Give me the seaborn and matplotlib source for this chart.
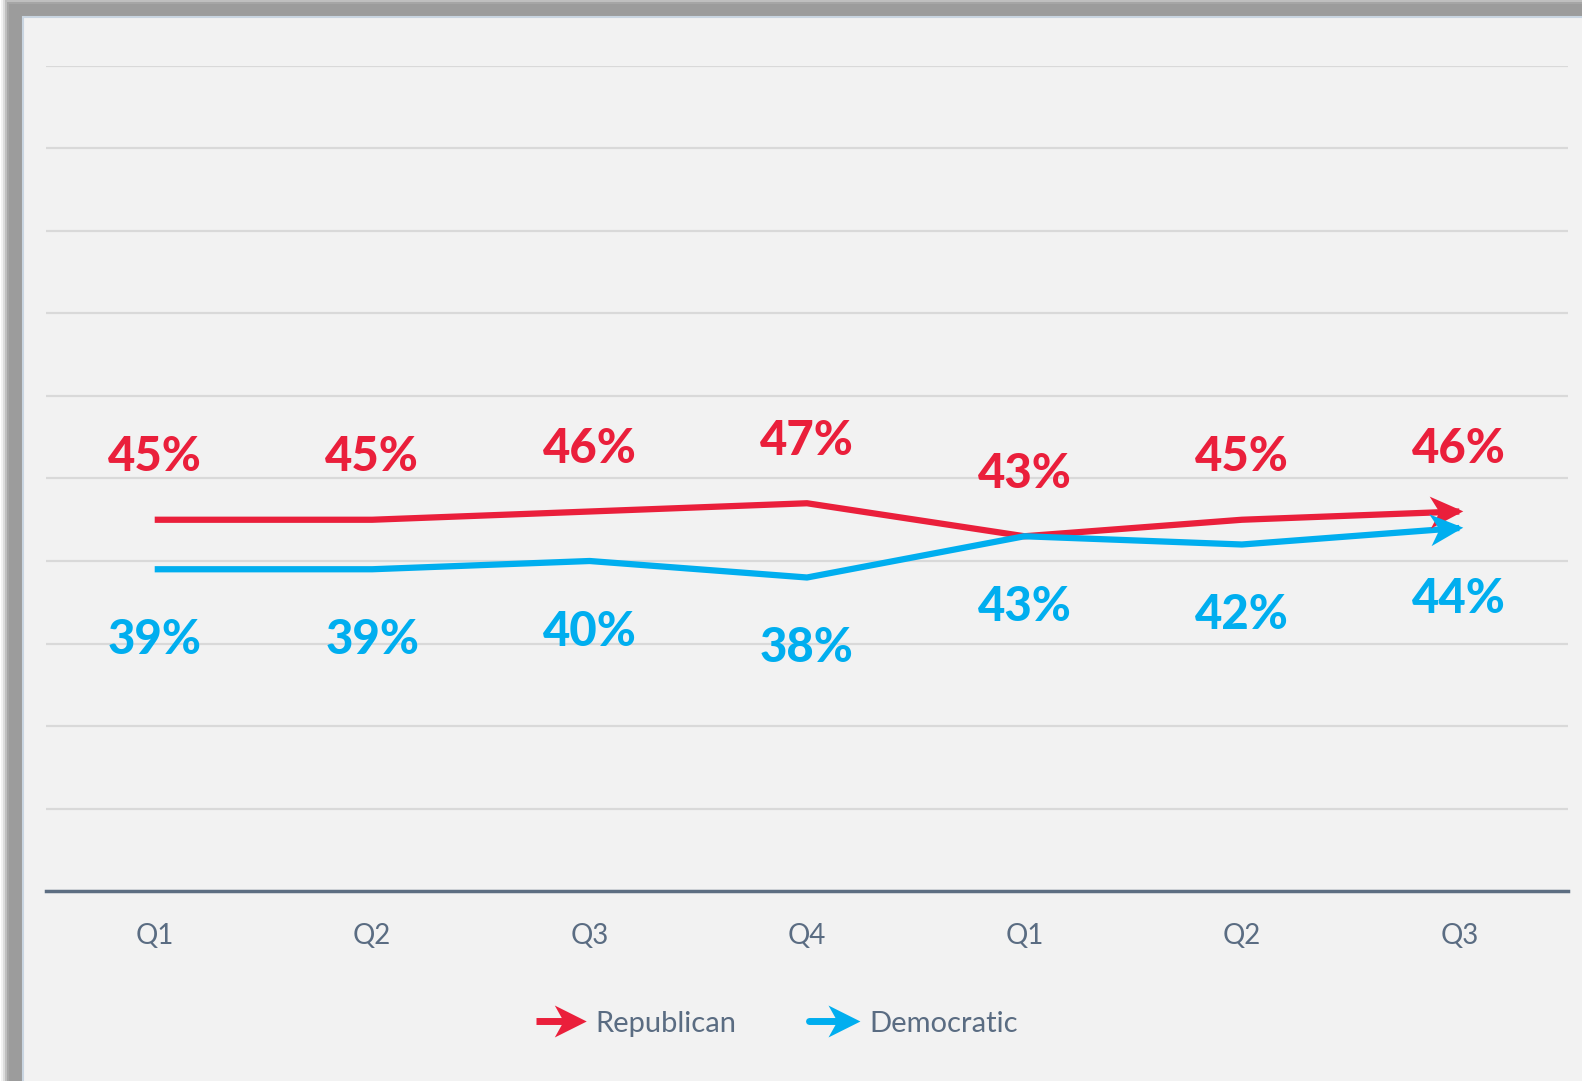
import matplotlib
matplotlib.use('Agg')
import numpy as np
import matplotlib.pyplot as plt
import seaborn as sns
import pandas as pd
from matplotlib.patches import Rectangle, Polygon
from matplotlib.lines import Line2D
from matplotlib.legend_handler import HandlerBase
from matplotlib.transforms import IdentityTransform

# Data
quarters = ['Q1', 'Q2', 'Q3', 'Q4', 'Q1', 'Q2', 'Q3']
republican = [45, 45, 46, 47, 43, 45, 46]
democratic = [39, 39, 40, 38, 43, 42, 44]

RED = '#EA1F3B'
BLUE = '#00AEEF'
TEXT = '#5A6C82'

sns.set_theme(style='white')
plt.rcParams['font.family'] = ['Lato', 'DejaVu Sans']

df = pd.DataFrame({
    'pos': list(range(len(quarters))) * 2,
    'value': republican + democratic,
    'party': ['Republican'] * len(quarters) + ['Democratic'] * len(quarters),
})

fig = plt.figure(figsize=(15.82, 10.81), dpi=100, facecolor='white')

# drop shadow + panel behind the chart
for i, a in enumerate([0.12, 0.25, 0.45, 0.7, 1.0]):
    off = (4 - i) * 2
    fig.patches.append(Rectangle(((9 - off) / 1582, -0.02), 1.1, 1 - (4 - off) / 1081 + 0.02,
                                 transform=fig.transFigure, facecolor='#9c9c9c', alpha=a,
                                 edgecolor='none', zorder=-20 + i))
fig.patches.append(Rectangle((23 / 1582, -0.02), 1.1, 1 - 17 / 1081 + 0.02,
                             transform=fig.transFigure, facecolor='#f2f2f2',
                             edgecolor='#c9d5e1', lw=1.5, zorder=-10))

ax = fig.add_axes([46 / 1582, 190 / 1081, 1522 / 1582, 825 / 1081])
ax.set_facecolor('none')

sns.lineplot(data=df, x='pos', y='value', hue='party',
             palette={'Republican': RED, 'Democratic': BLUE},
             linewidth=4.5, legend=False, ax=ax, zorder=3)
for ln in ax.lines:
    ln.set_solid_capstyle('butt')

ax.set_xlim(-0.5, len(quarters) - 0.5)
ax.set_ylim(0, 100)


def head_verts(tip, u, L, W, notch=0.72):
    w = np.array([-u[1], u[0]])
    return [tip, tip - L * u + W * w, tip - notch * L * u, tip - L * u - W * w]


# swept-back arrow heads at the last point of each line (pixel space)
for vals, col in [(republican, RED), (democratic, BLUE)]:
    n = len(vals) - 1
    p1 = ax.transData.transform((n - 1, vals[n - 1]))
    p2 = ax.transData.transform((n, vals[n]))
    u = (p2 - p1) / np.hypot(*(p2 - p1))
    ax.add_patch(Polygon(head_verts(p2 + 4 * u, u, 33, 16), closed=True,
                         transform=IdentityTransform(), facecolor=col,
                         edgecolor='none', zorder=4, clip_on=False))

# value labels
for i in range(len(quarters)):
    ax.annotate(f'{republican[i]}%', (i, republican[i]), xytext=(0, 45),
                textcoords='offset points', ha='center', va='center',
                fontsize=34, fontweight='black', color=RED)
    ax.annotate(f'{democratic[i]}%', (i, democratic[i]), xytext=(0, -51),
                textcoords='offset points', ha='center', va='center',
                fontsize=34, fontweight='black', color=BLUE)

ax.set_yticks(range(0, 101, 10))
ax.set_yticklabels([])
ax.set_xticks(range(len(quarters)))
ax.set_xticklabels(quarters)
ax.tick_params(axis='x', length=0, pad=23, labelsize=20, labelcolor=TEXT)
ax.tick_params(axis='y', length=0)
ax.grid(axis='y', color='#d9d9d9', lw=1.6)
ax.grid(axis='x', visible=False)
ax.set_xlabel('')
ax.set_ylabel('')
for s in ['top', 'left', 'right']:
    ax.spines[s].set_visible(False)
ax.spines['bottom'].set_color('#5d6e82')
ax.spines['bottom'].set_linewidth(2.5)
ax.spines['bottom'].set_zorder(2)


class ArrowHandler(HandlerBase):
    def create_artists(self, legend, orig_handle, xdescent, ydescent,
                       width, height, fontsize, trans):
        y = height / 2 - ydescent
        col = orig_handle.get_color()
        L, W = 23, 11.5
        tip = np.array([width - xdescent, y])
        line = Line2D([-xdescent, tip[0] - 0.72 * L], [y, y], color=col, lw=5,
                      solid_capstyle=orig_handle.get_solid_capstyle(), transform=trans)
        head = Polygon(head_verts(tip, np.array([1.0, 0.0]), L, W), closed=True,
                       facecolor=col, edgecolor='none', transform=trans)
        return [line, head]


handles = [Line2D([0], [0], color=RED, label='Republican', solid_capstyle='butt'),
           Line2D([0], [0], color=BLUE, label='Democratic', solid_capstyle='round')]
leg = fig.legend(handles=handles, loc='center', bbox_to_anchor=(0.491, 0.053), ncol=2,
                 frameon=False, fontsize=21, handlelength=1.75, handletextpad=0.3,
                 columnspacing=2.5, handler_map={Line2D: ArrowHandler()})
for t in leg.get_texts():
    t.set_color(TEXT)

fig.savefig('out.png', dpi=100, facecolor=fig.get_facecolor())
